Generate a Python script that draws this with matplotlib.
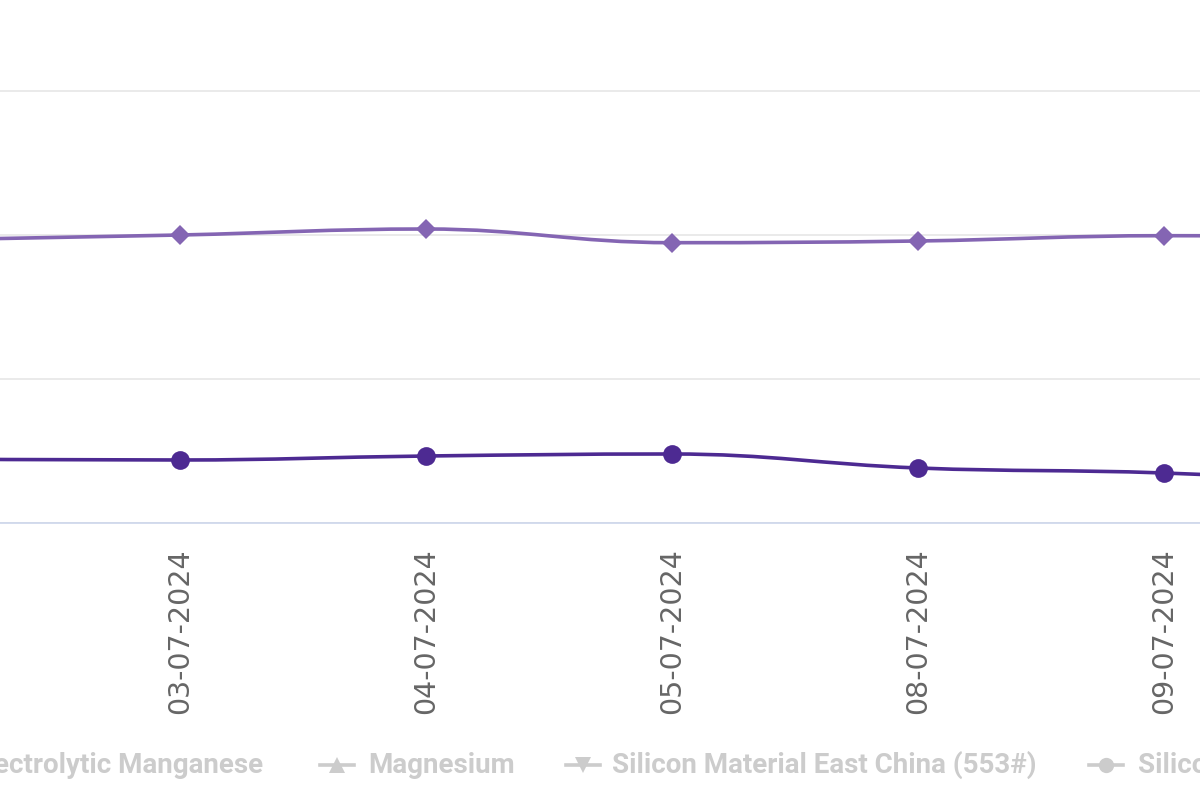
import matplotlib
matplotlib.use("Agg")
import matplotlib.pyplot as plt
import numpy as np
from matplotlib.path import Path
from matplotlib.patches import PathPatch
from matplotlib.lines import Line2D

# categories (first and last lie just outside the visible window)
dates = ["02-07-2024", "03-07-2024", "04-07-2024", "05-07-2024",
         "08-07-2024", "09-07-2024", "10-07-2024"]

# series values
upper_vals = [14840, 15000, 15208, 14733, 14792, 14976, 14960]
lower_vals = [7220, 7188, 7326, 7396, 6910, 6736, 6300]

# hidden (greyed) legend entries that can be seen
legend_names = ["Electrolytic Manganese", "Magnesium",
                "Silicon Material East China (553#)", "Silicon Metal"]
legend_marks = [None, "^", "v", "o"]

UPPER_COL = "#8465b3"
LOWER_COL = "#4d2a92"
GRID_COL = "#e6e6e6"
AXIS_COL = "#ccd6eb"


def spline_path(xs, ys, smoothing=1.5):
    # Highcharts-style spline: cubic bezier with smoothed control points
    n = len(xs)
    lc = [None] * n
    rc = [None] * n
    denom = smoothing + 1
    for i in range(1, n - 1):
        px, py = xs[i], ys[i]
        lx, ly = xs[i - 1], ys[i - 1]
        nx, ny = xs[i + 1], ys[i + 1]
        lcx = (smoothing * px + lx) / denom
        lcy = (smoothing * py + ly) / denom
        rcx = (smoothing * px + nx) / denom
        rcy = (smoothing * py + ny) / denom
        corr = 0
        if rcx != lcx:
            corr = (rcy - lcy) * (rcx - px) / (rcx - lcx) + py - rcy
        lcy += corr
        rcy += corr
        if lcy > ly and lcy > py:
            lcy = max(ly, py); rcy = 2 * py - lcy
        elif lcy < ly and lcy < py:
            lcy = min(ly, py); rcy = 2 * py - lcy
        if rcy > ny and rcy > py:
            rcy = max(ny, py); lcy = 2 * py - rcy
        elif rcy < ny and rcy < py:
            rcy = min(ny, py); lcy = 2 * py - rcy
        lc[i] = (lcx, lcy)
        rc[i] = (rcx, rcy)
    verts = [(xs[0], ys[0])]
    codes = [Path.MOVETO]
    for i in range(1, n):
        c1 = rc[i - 1] if rc[i - 1] is not None else (xs[i - 1], ys[i - 1])
        c2 = lc[i] if lc[i] is not None else (xs[i], ys[i])
        verts += [c1, c2, (xs[i], ys[i])]
        codes += [Path.CURVE4] * 3
    return Path(verts, codes)


x = np.arange(len(dates))

fig = plt.figure(figsize=(12, 8), dpi=100)
ax = fig.add_axes([0, 1 - 523 / 800, 1, 523 / 800])

ax.set_xticks(x)
ax.set_xticklabels(dates, rotation=90, fontsize=20.5, color="#666666",
                   family="DejaVu Sans")
ax.tick_params(axis="x", length=0, pad=18)
ax.set_yticks([5000, 10000, 15000, 20000])
ax.tick_params(axis="y", left=False, labelleft=False)

ax.add_patch(PathPatch(spline_path(x, upper_vals), fill=False,
                       edgecolor=UPPER_COL, linewidth=2.6, zorder=3))
ax.plot(x, upper_vals, linestyle="none", marker="D", markersize=10,
        color=UPPER_COL, markeredgewidth=0, zorder=4)

ax.add_patch(PathPatch(spline_path(x, lower_vals), fill=False,
                       edgecolor=LOWER_COL, linewidth=2.6, zorder=3))
ax.plot(x, lower_vals, linestyle="none", marker="o", markersize=13.5,
        color=LOWER_COL, markeredgewidth=0, zorder=4)

# limits last, set_xticks would widen them otherwise
ax.set_xlim(1 - 180 / 246, 1 + 1020 / 246)
ax.set_ylim(5000, 5000 + 523 / 144 * 5000)

ax.yaxis.grid(True, color=GRID_COL, linewidth=1.2)
ax.set_axisbelow(True)
for side in ["left", "right", "top"]:
    ax.spines[side].set_visible(False)
ax.spines["bottom"].set_color(AXIS_COL)
ax.spines["bottom"].set_linewidth(1.2)

# legend row (hidden series, greyed out)
W, H = 1200.0, 800.0
base_y = 1 - 773 / H
leg_font = dict(family=["Roboto", "DejaVu Sans"],
                fontweight="bold", fontsize=20, color="#cccccc")
fig.text(263 / W, base_y, legend_names[0], ha="right", va="baseline", **leg_font)
sym_x = [337, 583, 1106]
txt_x = [368, 612, 1138]
for name, mk, sx, tx in zip(legend_names[1:], legend_marks[1:], sym_x, txt_x):
    fig.add_artist(Line2D([(sx - 17) / W, (sx + 17) / W], [1 - 765 / H] * 2,
                          color="#cccccc", linewidth=2.6,
                          transform=fig.transFigure))
    fig.add_artist(Line2D([sx / W], [1 - 765 / H], color="#cccccc",
                          marker=mk, markersize=11, markeredgewidth=0,
                          linestyle="none", transform=fig.transFigure))
    fig.text(tx / W, base_y, name, ha="left", va="baseline", **leg_font)

fig.savefig("out.png", dpi=100)
